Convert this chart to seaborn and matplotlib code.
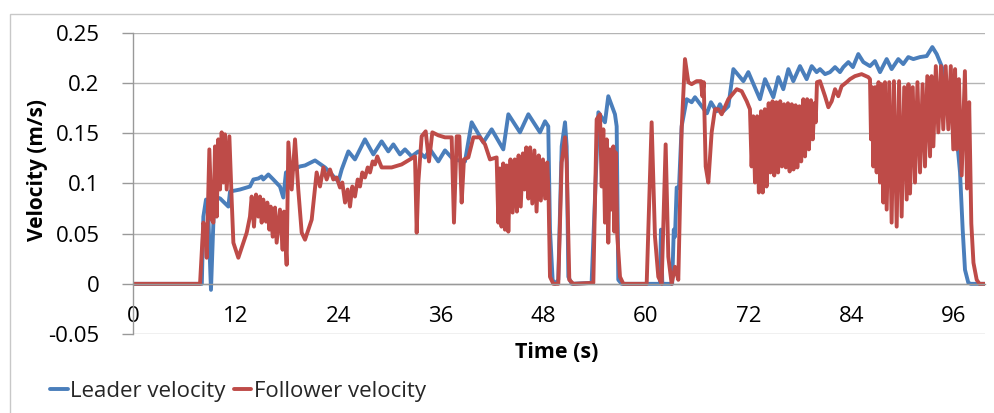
import matplotlib
matplotlib.use("Agg")
import matplotlib.pyplot as plt
import seaborn as sns
import pandas as pd
from matplotlib.patches import Rectangle

# ---------------- data ----------------
leader_t = [0, 8.05, 8.23, 8.54, 8.8, 9.12, 9.40, 9.59, 10.2, 11.15, 11.35, 12.51, 13.68, 14.08,
            14.66, 15.05, 15.24, 15.83, 16.41, 17.19, 17.58, 17.89, 18.75, 19.53, 20.12, 21.29,
            22.46, 24.02, 24.41, 25.19, 25.96, 27.13, 28.11, 29.08, 29.86, 30.45, 31.23, 31.81,
            32.59, 33.37, 34.15, 34.74, 35.71, 36.49, 37.46, 38.83, 39.61, 40.97, 41.95, 43.31,
            43.90, 45.26, 46.24, 47.60, 48.19, 48.57, 48.77, 49.08, 49.36, 49.74, 50.14, 50.53,
            50.72, 50.92, 51.31, 53.64, 54.43, 55.20, 55.59, 56.37, 56.57, 56.76, 57.15, 61.64,
            61.75, 61.91, 63.06, 63.25, 63.39, 63.59, 63.86, 64.17, 64.76, 65.34, 65.73, 66.51,
            67.13, 67.6, 68.26, 68.65, 69.04, 69.63, 70.22, 71.39, 71.97, 73.33, 73.92, 74.89,
            75.47, 76.06, 76.65, 77.23, 78.01, 78.79, 79.38, 79.96, 80.35, 80.94, 81.52, 82.11,
            82.69, 83.08, 83.67, 84.2, 84.83, 85.42, 86.20, 86.78, 87.37, 88.15, 88.73, 89.51,
            90.09, 90.68, 91.27, 92.05, 92.83, 93.49, 94.0, 94.58, 95.1, 95.6, 96.2, 96.73,
            97.04, 97.31, 97.7, 98.0, 99.65]
leader_v = [0, 0, 0.067, 0.084, 0.07, -0.006, 0.061, 0.087, 0.085, 0.077, 0.092, 0.094, 0.097, 0.104,
            0.105, 0.107, 0.104, 0.109, 0.104, 0.097, 0.086, 0.111, 0.114, 0.117, 0.118, 0.123,
            0.116, 0.102, 0.114, 0.132, 0.124, 0.144, 0.129, 0.142, 0.132, 0.139, 0.129, 0.134,
            0.127, 0.132, 0.126, 0.134, 0.122, 0.133, 0.124, 0.122, 0.161, 0.141, 0.154, 0.134,
            0.169, 0.151, 0.169, 0.151, 0.162, 0.157, 0.054, 0.004, 0, 0.004, 0.137, 0.161,
            0.137, 0.007, 0, 0.001, 0.171, 0.161, 0.187, 0.169, 0.157, 0.004, 0, 0,
            0.054, 0, 0, 0.054, 0.047, 0.096, 0.096, 0.157, 0.184, 0.181, 0.186, 0.177,
            0.170, 0.181, 0.172, 0.179, 0.172, 0.177, 0.214, 0.202, 0.211, 0.184, 0.204, 0.186,
            0.206, 0.194, 0.214, 0.202, 0.217, 0.204, 0.217, 0.211, 0.214, 0.209, 0.211, 0.216,
            0.211, 0.216, 0.221, 0.216, 0.229, 0.221, 0.217, 0.222, 0.211, 0.224, 0.214, 0.224,
            0.219, 0.226, 0.224, 0.226, 0.227, 0.236, 0.229, 0.217, 0.200, 0.185, 0.160, 0.111,
            0.054, 0.014, 0.001, 0, 0]

follower_t = [0, 7.84, 8.23, 8.42, 8.62, 8.93, 9.20, 9.40, 9.59, 9.79, 9.98, 10.18, 10.37, 10.57,
              10.76, 10.96, 11.27, 11.54, 11.74, 12.32, 13.30, 13.68, 13.88, 14.15, 14.39, 14.66,
              14.85, 15.05, 15.24, 15.56, 15.71, 15.95, 16.10, 16.34, 16.61, 16.80, 17.19, 17.50,
              17.66, 17.97, 18.17, 18.56, 18.95, 19.33, 19.73, 20.12, 20.90, 21.48, 21.87, 22.26,
              22.65, 23.04, 23.43, 23.82, 24.21, 24.48, 24.80, 25.11, 25.38, 25.65, 25.96, 26.28,
              26.55, 26.82, 27.13, 27.45, 27.72, 28.03, 28.30, 28.57, 29.08, 30.25, 31.42, 32.98,
              33.18, 33.37, 33.76, 34.23, 34.62, 35.01, 35.71, 36.49, 37.27, 37.54, 37.86, 38.17,
              38.44, 38.71, 39.22, 39.81, 40.58, 41.17, 41.75, 42.53, 42.73, 42.9, 43.1, 43.3,
              43.5, 43.7, 43.9, 44.15, 44.4, 44.65, 44.9, 45.1, 45.35, 45.6, 45.8, 46.0,
              46.25, 46.45, 46.7, 46.95, 47.2, 47.45, 47.7, 47.95, 48.2, 48.45, 48.6, 48.77,
              49.16, 49.74, 50.14, 50.53, 50.72, 51.03, 51.5, 53.84, 54.23, 54.62, 54.82, 55.01,
              55.20, 55.40, 55.59, 55.79, 55.98, 56.18, 56.30, 56.45, 56.65, 56.96, 57.35, 60.08,
              60.66, 61.05, 61.44, 61.83, 62.30, 62.61, 63.00, 63.39, 63.78, 64.17, 64.56, 64.95,
              65.34, 65.93, 66.43, 66.59, 66.75, 66.98, 67.29, 67.68, 68.07, 68.46, 68.85, 69.63,
              70.61, 71.19, 71.78, 72.16, 72.35, 72.55, 72.75, 73.0, 73.2, 73.45, 73.65, 73.9,
              74.1, 74.35, 74.55, 74.8, 75.0, 75.25, 75.45, 75.7, 75.9, 76.15, 76.35, 76.6,
              76.8, 77.05, 77.25, 77.5, 77.7, 77.95, 78.15, 78.4, 78.6, 78.85, 79.05, 79.3,
              79.5, 79.7, 79.85, 80.0, 80.35, 80.94, 81.33, 81.72, 82.11, 82.49, 82.88, 83.47,
              83.86, 84.44, 85.22, 86.00, 86.20, 86.32, 86.45, 86.59, 86.8, 86.98, 87.2, 87.37,
              87.55, 87.76, 87.95, 88.15, 88.45, 88.73, 89.0, 89.32, 89.6, 89.90, 90.2, 90.49,
              90.7, 90.88, 91.2, 91.46, 91.75, 92.05, 92.35, 92.63, 92.9, 93.22, 93.4, 93.61,
              93.9, 94.19, 94.5, 94.77, 95.05, 95.36, 95.65, 95.94, 96.15, 96.34, 96.6, 96.92,
              97.3, 97.55, 97.8, 98.05, 98.3, 98.68, 99.0, 99.65]
follower_v = [0, 0, 0.061, 0.054, 0.026, 0.134, 0.064, 0.061, 0.137, 0.067, 0.144, 0.094, 0.151, 0.101,
              0.149, 0.094, 0.147, 0.084, 0.041, 0.026, 0.051, 0.067, 0.087, 0.057, 0.089, 0.067,
              0.087, 0.061, 0.084, 0.062, 0.081, 0.054, 0.077, 0.047, 0.076, 0.041, 0.074, 0.034,
              0.072, 0.019, 0.141, 0.094, 0.144, 0.094, 0.051, 0.044, 0.064, 0.111, 0.097, 0.116,
              0.104, 0.114, 0.104, 0.106, 0.096, 0.101, 0.081, 0.094, 0.077, 0.097, 0.087, 0.104,
              0.097, 0.111, 0.106, 0.116, 0.111, 0.122, 0.119, 0.127, 0.116, 0.116, 0.119, 0.127,
              0.051, 0.101, 0.147, 0.152, 0.122, 0.151, 0.148, 0.146, 0.146, 0.061, 0.147, 0.147,
              0.081, 0.124, 0.126, 0.146, 0.146, 0.139, 0.124, 0.126, 0.061, 0.115, 0.057, 0.120,
              0.054, 0.118, 0.052, 0.124, 0.071, 0.124, 0.072, 0.128, 0.077, 0.130, 0.094, 0.136,
              0.085, 0.136, 0.080, 0.133, 0.072, 0.128, 0.083, 0.124, 0.085, 0.121, 0.090, 0.007,
              0, 0, 0.121, 0.146, 0.121, 0.004, 0, 0.001, 0.164, 0.169, 0.097, 0.154,
              0.061, 0.144, 0.041, 0.134, 0.074, 0.137, 0.052, 0.131, 0.047, 0.007, 0, 0,
              0.161, 0.047, 0.007, 0, 0.139, 0.027, 0, 0.017, 0.004, 0.154, 0.224, 0.201,
              0.199, 0.202, 0.202, 0.187, 0.201, 0.117, 0.101, 0.151, 0.174, 0.174, 0.169, 0.184,
              0.194, 0.192, 0.182, 0.174, 0.117, 0.167, 0.101, 0.167, 0.091, 0.172, 0.091, 0.174,
              0.097, 0.180, 0.111, 0.182, 0.108, 0.181, 0.111, 0.182, 0.117, 0.179, 0.116, 0.180,
              0.112, 0.179, 0.114, 0.178, 0.116, 0.177, 0.122, 0.184, 0.127, 0.184, 0.134, 0.183,
              0.144, 0.180, 0.161, 0.201, 0.202, 0.187, 0.176, 0.182, 0.194, 0.187, 0.197, 0.201,
              0.204, 0.207, 0.209, 0.206, 0.204, 0.144, 0.196, 0.117, 0.196, 0.111, 0.201, 0.101,
              0.199, 0.081, 0.201, 0.074, 0.201, 0.061, 0.202, 0.057, 0.202, 0.067, 0.196, 0.084,
              0.199, 0.090, 0.196, 0.101, 0.201, 0.111, 0.199, 0.117, 0.207, 0.127, 0.207, 0.137,
              0.217, 0.151, 0.217, 0.154, 0.217, 0.154, 0.217, 0.134, 0.214, 0.134, 0.204, 0.108,
              0.212, 0.095, 0.181, 0.060, 0.021, 0.004, 0, 0]

x_ticks = [0, 12, 24, 36, 48, 60, 72, 84, 96]
y_ticks = [-0.05, 0, 0.05, 0.1, 0.15, 0.2, 0.25]
y_tick_labels = ["-0.05", "0", "0.05", "0.1", "0.15", "0.2", "0.25"]
series_names = ["Leader velocity", "Follower velocity"]
series_colors = ["#4a7ebb", "#be4b48"]

# ---------------- plotting ----------------
sns.set_theme(style="white")
plt.rcParams["font.family"] = ["Open Sans", "DejaVu Sans"]

fig = plt.figure(figsize=(9.95, 4.13), dpi=100)
ax = fig.add_axes([133 / 995, 1 - 334 / 413, (985 - 133) / 995, (334 - 33) / 413])

df_lead = pd.DataFrame({"Time": leader_t, "Velocity": leader_v})
df_foll = pd.DataFrame({"Time": follower_t, "Velocity": follower_v})
sns.lineplot(data=df_lead, x="Time", y="Velocity", ax=ax, color=series_colors[0],
             lw=2.8, estimator=None, sort=False, label=series_names[0])
sns.lineplot(data=df_foll, x="Time", y="Velocity", ax=ax, color=series_colors[1],
             lw=2.8, estimator=None, sort=False, label=series_names[1])

ax.set_xlim(0, 99.65)
ax.set_ylim(-0.05, 0.25)
ax.set_xticks(x_ticks)
ax.set_xticklabels([str(t) for t in x_ticks])
ax.set_yticks(y_ticks)
ax.set_yticklabels(y_tick_labels)

ax.grid(axis="y", color="#b4b4b4", lw=1)
ax.grid(axis="x", visible=False)
ax.set_axisbelow(True)
for s in ["top", "right"]:
    ax.spines[s].set_visible(False)
ax.spines["bottom"].set_position(("data", 0))
ax.spines["bottom"].set_color("#999999")
ax.spines["left"].set_color("#999999")
ax.spines["bottom"].set_linewidth(1)
ax.spines["left"].set_linewidth(1)

ax.tick_params(axis="x", length=0, pad=16, labelsize=16, colors="#000000")
ax.tick_params(axis="y", length=8, width=1, color="#999999", pad=16, labelsize=16,
               labelcolor="#000000", left=True)

ax.set_xlabel("Time (s)", fontsize=15.5, fontweight="bold", color="black")
ax.set_ylabel("Velocity (m/s)", fontsize=15, fontweight="bold", color="black")
ax.xaxis.set_label_coords((557 - 133) / (985 - 133), (334 - 353) / (334 - 33))
ax.yaxis.set_label_coords((37 - 133) / (985 - 133), (334 - 170) / (334 - 33))
ax.xaxis.label.set_va("center")
ax.yaxis.label.set_va("center")

ax.get_legend().remove()
handles, labels = ax.get_legend_handles_labels()
fig.legend(handles, labels, loc="center left", bbox_to_anchor=(50 / 995, 1 - 391 / 413),
           ncol=2, frameon=False, fontsize=16, handlelength=0.8, handletextpad=0.12,
           columnspacing=0.35, borderpad=0, borderaxespad=0)

fig.patches.append(Rectangle((10 / 995, -0.5), 1.2, 1.5 - 14 / 413, transform=fig.transFigure,
                             fill=False, edgecolor="#c8c8c8", lw=1))

fig.savefig("out.png", dpi=100)
